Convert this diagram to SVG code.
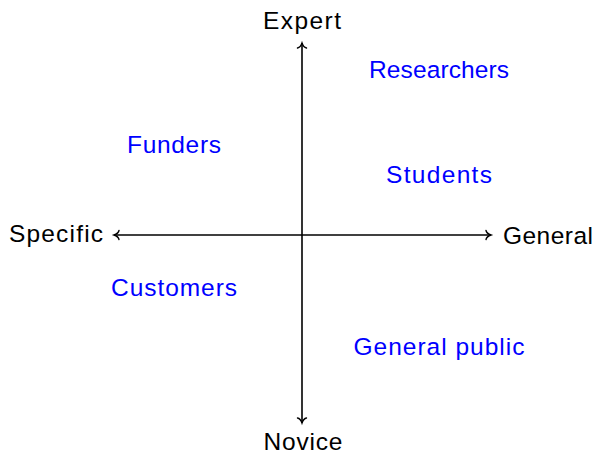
<svg xmlns="http://www.w3.org/2000/svg" width="595" height="456" viewBox="0 0 595 456">
<style>
text{font-family:"Liberation Sans","DejaVu Sans",sans-serif;font-size:24.5px;text-anchor:middle}
.b{fill:#0000ff}
.k{fill:#000}
.ax{stroke:#000;stroke-width:1.6;fill:none}
</style>
<defs>
<marker id="ar" viewBox="-6 -6 10 12" markerWidth="10" markerHeight="12" refX="0" refY="0" orient="auto-start-reverse" markerUnits="userSpaceOnUse">
<path d="M-5,-4.5 C-4.5,-2 -1.5,-0.5 0,0 C-1.5,0.5 -4.5,2 -5,4.5" fill="none" stroke="#000" stroke-width="1.4" stroke-linecap="round"/>
</marker>
</defs>
<g id="connectors">
<line class="ax" x1="302" y1="423" x2="302" y2="43" marker-start="url(#ar)" marker-end="url(#ar)"/>
<line class="ax" x1="114" y1="235" x2="491" y2="235" marker-start="url(#ar)" marker-end="url(#ar)"/>
</g>
<g id="expert"><text class="k" x="302" y="29" textLength="78">Expert</text></g>
<g id="novice"><text class="k" x="303" y="450" textLength="79">Novice</text></g>
<g id="specific"><text class="k" x="56" y="242" textLength="94">Specific</text></g>
<g id="general"><text class="k" x="548" y="244" textLength="90">General</text></g>
<g id="researchers"><text class="b" x="439" y="78" textLength="140">Researchers</text></g>
<g id="funders"><text class="b" x="174" y="153" textLength="94">Funders</text></g>
<g id="students"><text class="b" x="439" y="183" textLength="106">Students</text></g>
<g id="customers"><text class="b" x="174" y="296" textLength="126">Customers</text></g>
<g id="general-public"><text class="b" x="439" y="355" textLength="171">General public</text></g>
</svg>
